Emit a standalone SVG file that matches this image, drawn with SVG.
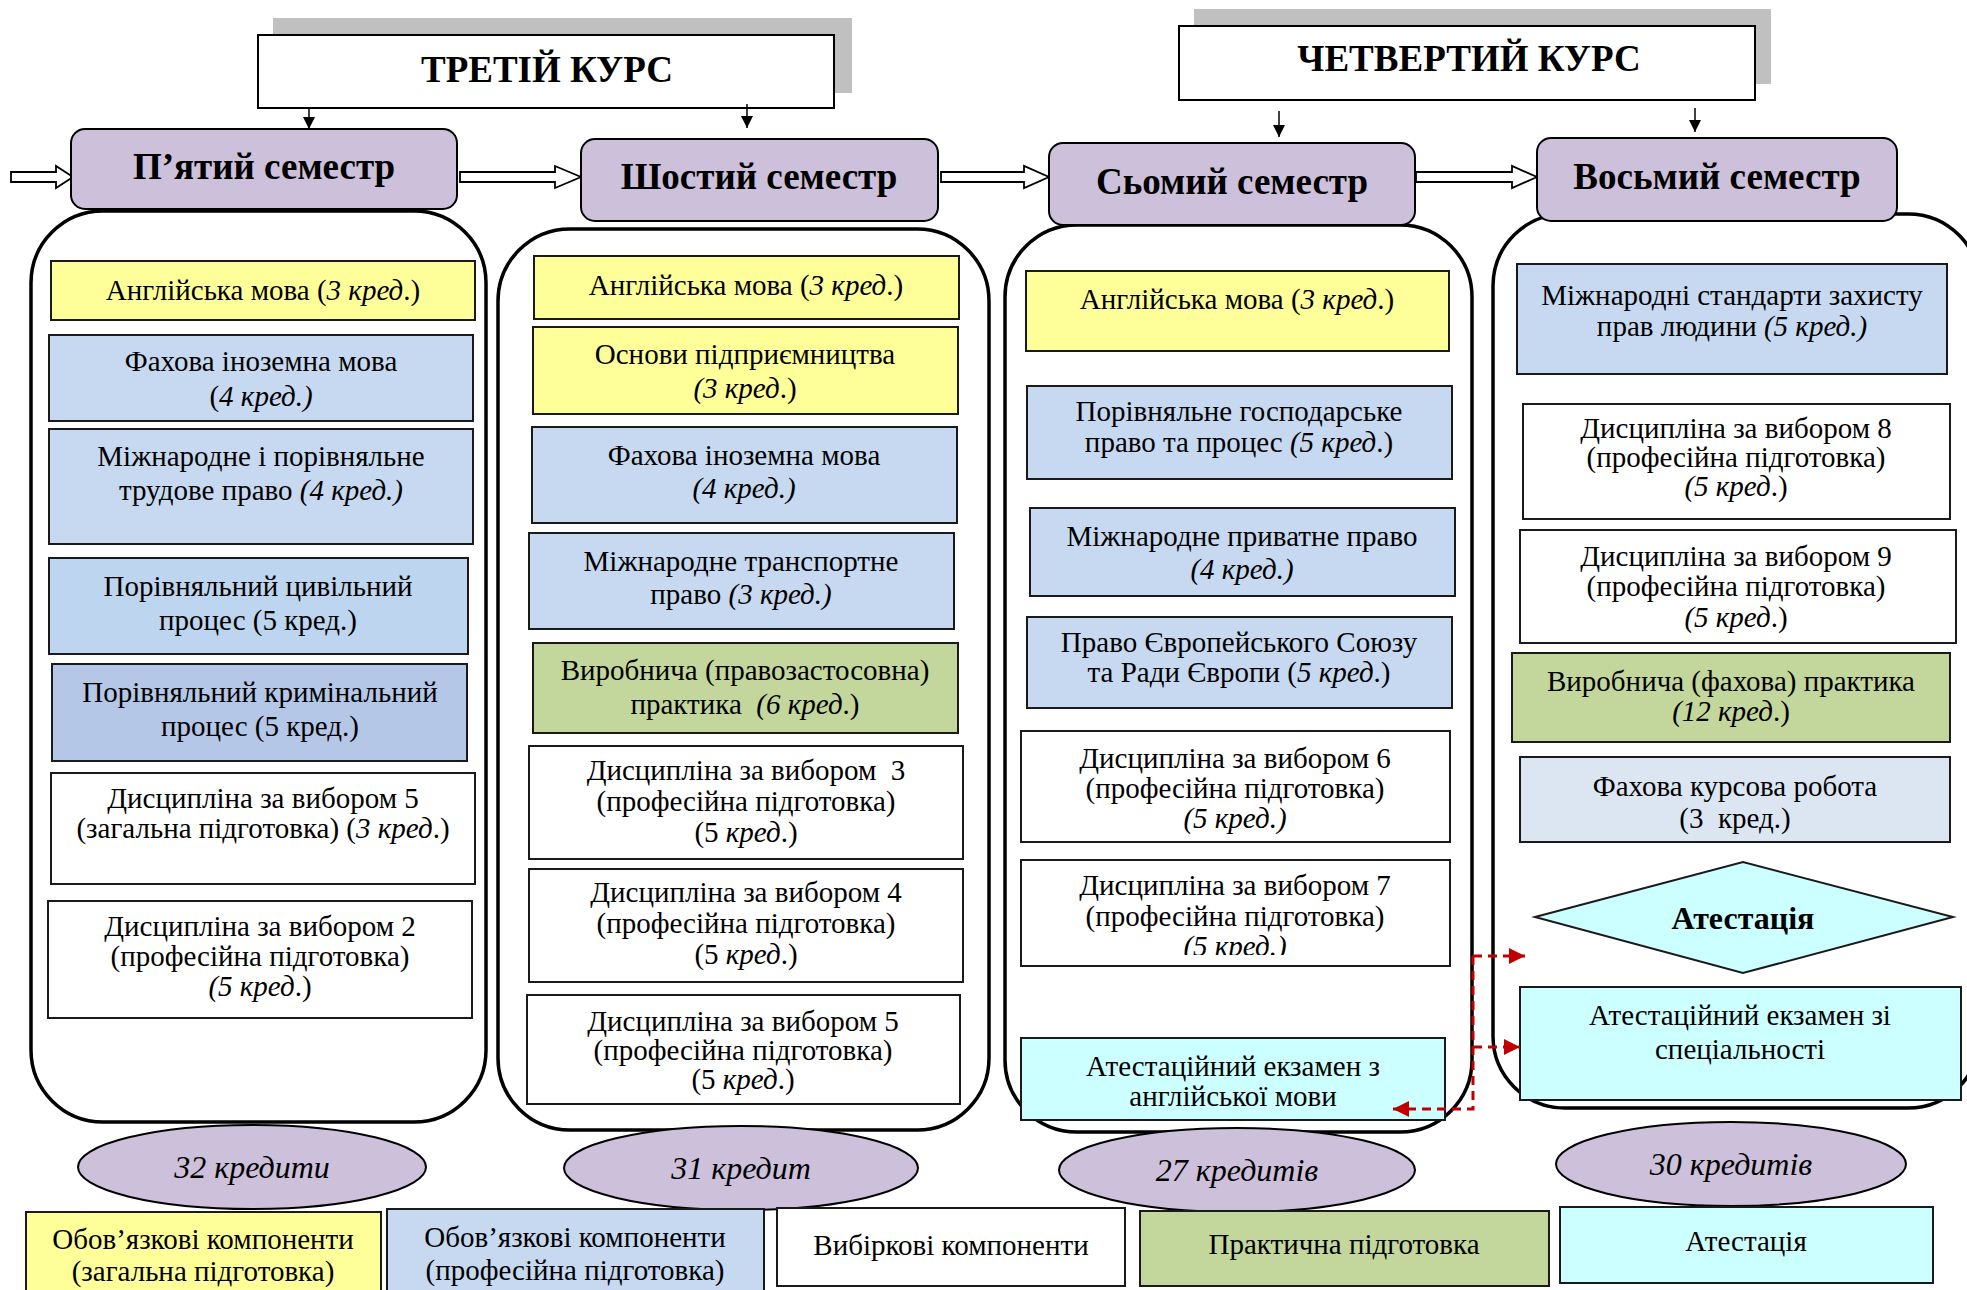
<svg xmlns="http://www.w3.org/2000/svg" width="1967" height="1290" viewBox="0 0 1967 1290">
<style>
text{font-family:"Liberation Serif","Times New Roman",serif;fill:#000;text-anchor:middle}
.t{font-size:29px}
.h{font-size:37px;font-weight:bold}
.s{font-size:37px;font-weight:bold}
.c{font-size:32px;font-style:italic}
.i{font-style:italic}
.box{stroke:#1a1a1a;stroke-width:2}
.cont{fill:#fff;stroke:#000;stroke-width:3.5}
.sem{fill:#ccc0da;stroke:#000;stroke-width:2}
.y{fill:#ffff99}.b{fill:#c6d9f1}.b2{fill:#bdd5ee}.b3{fill:#b4c7e7}.g{fill:#c3d69b}.w{fill:#fff}.cy{fill:#ccffff}.lb{fill:#dce6f2}
.ell{fill:#ccc0da;stroke:#000;stroke-width:2}
.blk{fill:#fff;stroke:#000;stroke-width:1.8}
.dn{stroke:#000;stroke-width:1.5;fill:none}
.red{stroke:#c00000;stroke-width:3;stroke-dasharray:9 6;fill:none}
</style>
<defs>
<marker id="ah" markerUnits="userSpaceOnUse" markerWidth="12" markerHeight="14" refX="12" refY="7" orient="auto"><path d="M0,1 L12,7 L0,13 Z" fill="#000"/></marker>
<marker id="rh" markerUnits="userSpaceOnUse" markerWidth="16" markerHeight="18" refX="16" refY="9" orient="auto"><path d="M0,1 L16,9 L0,17 Z" fill="#c00000"/></marker>
<clipPath id="clip7"><rect x="1021" y="860" width="429" height="95"/></clipPath>
</defs>

<!-- course headers -->
<g id="course3">
<rect x="273" y="18" width="579" height="75" fill="#c0c0c0"/>
<rect x="258" y="35" width="576" height="73" fill="#fff" stroke="#000" stroke-width="2"/>
<text class="h" x="547" y="82">ТРЕТІЙ КУРС</text>
</g>
<g id="course4">
<rect x="1194" y="9" width="577" height="75" fill="#c0c0c0"/>
<rect x="1179" y="26" width="576" height="74" fill="#fff" stroke="#000" stroke-width="2"/>
<text class="h" x="1469" y="71">ЧЕТВЕРТИЙ КУРС</text>
</g>

<!-- containers -->
<g id="containers">
<rect id="cont5" class="cont" x="31" y="211" width="455" height="911" rx="72"/>
<rect id="cont6" class="cont" x="498" y="229" width="491" height="901" rx="72"/>
<rect id="cont7" class="cont" x="1005" y="225" width="467" height="907" rx="72"/>
<rect id="cont8" class="cont" x="1493" y="214" width="487" height="894" rx="72"/>
</g>

<!-- connectors -->
<g id="connectors">
<polygon class="blk" points="11,172 56,172 56,166 73,177 56,188 56,182 11,182"/>
<polygon class="blk" points="460,172 555,172 555,166 581,177 555,188 555,182 460,182"/>
<polygon class="blk" points="941,172 1024,172 1024,166 1049,177 1024,188 1024,182 941,182"/>
<polygon class="blk" points="1416,172 1512,172 1512,166 1537,177 1512,188 1512,182 1416,182"/>
<line class="dn" x1="309" y1="108" x2="309" y2="129" marker-end="url(#ah)"/>
<line class="dn" x1="747" y1="104" x2="747" y2="128" marker-end="url(#ah)"/>
<line class="dn" x1="1279" y1="111" x2="1279" y2="137" marker-end="url(#ah)"/>
<line class="dn" x1="1695" y1="108" x2="1695" y2="132" marker-end="url(#ah)"/>
</g>

<!-- semesters -->
<g id="sem5"><rect class="sem" x="71" y="129" width="386" height="80" rx="14"/><text class="s" x="264" y="179">П’ятий семестр</text></g>
<g id="sem6"><rect class="sem" x="581" y="139" width="357" height="82" rx="14"/><text class="s" x="759" y="189">Шостий семестр</text></g>
<g id="sem7"><rect class="sem" x="1049" y="143" width="366" height="82" rx="14"/><text class="s" x="1232" y="194">Сьомий семестр</text></g>
<g id="sem8"><rect class="sem" x="1537" y="138" width="360" height="83" rx="14"/><text class="s" x="1717" y="189">Восьмий семестр</text></g>

<!-- column 5 -->
<g id="c5a"><rect class="box y" x="51" y="261" width="424" height="59"/><text class="t" x="263" y="300">Англійська мова (<tspan class="i">3 кред</tspan>.)</text></g>
<g id="c5b"><rect class="box b" x="49" y="335" width="424" height="86"/><text class="t" x="261" y="371">Фахова іноземна мова</text><text class="t" x="261" y="406">(<tspan class="i">4 кред.)</tspan></text></g>
<g id="c5c"><rect class="box b" x="49" y="429" width="424" height="115"/><text class="t" x="261" y="466">Міжнародне і порівняльне</text><text class="t" x="261" y="500">трудове право <tspan class="i">(4 кред.)</tspan></text></g>
<g id="c5d"><rect class="box b2" x="49" y="558" width="419" height="96"/><text class="t" x="258" y="596">Порівняльний цивільний</text><text class="t" x="258" y="630">процес (5 кред.)</text></g>
<g id="c5e"><rect class="box b3" x="52" y="664" width="415" height="97"/><text class="t" x="260" y="702">Порівняльний кримінальний</text><text class="t" x="260" y="736">процес (5 кред.)</text></g>
<g id="c5f"><rect class="box w" x="51" y="773" width="424" height="111"/><text class="t" x="263" y="808">Дисципліна за вибором 5</text><text class="t" x="263" y="838">(загальна підготовка) (<tspan class="i">3 кред</tspan>.)</text></g>
<g id="c5g"><rect class="box w" x="48" y="901" width="424" height="117"/><text class="t" x="260" y="936">Дисципліна за вибором 2</text><text class="t" x="260" y="966">(професійна підготовка)</text><text class="t" x="260" y="996"><tspan class="i">(5 кред</tspan>.)</text></g>

<!-- column 6 -->
<g id="c6a"><rect class="box y" x="534" y="256" width="425" height="63"/><text class="t" x="746" y="295">Англійська мова (<tspan class="i">3 кред</tspan>.)</text></g>
<g id="c6b"><rect class="box y" x="533" y="327" width="425" height="87"/><text class="t" x="745" y="364">Основи підприємництва</text><text class="t" x="745" y="398"><tspan class="i">(3 кред</tspan>.)</text></g>
<g id="c6c"><rect class="box b" x="532" y="427" width="425" height="96"/><text class="t" x="744" y="465">Фахова іноземна мова</text><text class="t" x="744" y="498" font-style="italic">(4 кред.)</text></g>
<g id="c6d"><rect class="box b" x="529" y="533" width="425" height="96"/><text class="t" x="741" y="571">Міжнародне транспортне</text><text class="t" x="741" y="604">право <tspan class="i">(3 кред.)</tspan></text></g>
<g id="c6e"><rect class="box g" x="533" y="643" width="425" height="90"/><text class="t" x="745" y="680">Виробнича (правозастосовна)</text><text class="t" x="745" y="714">практика&#160; <tspan class="i">(6 кред</tspan>.)</text></g>
<g id="c6f"><rect class="box w" x="529" y="746" width="434" height="113"/><text class="t" x="746" y="780">Дисципліна за вибором&#160; 3</text><text class="t" x="746" y="811">(професійна підготовка)</text><text class="t" x="746" y="842">(5 <tspan class="i">кред</tspan>.)</text></g>
<g id="c6g"><rect class="box w" x="529" y="869" width="434" height="113"/><text class="t" x="746" y="902">Дисципліна за вибором 4</text><text class="t" x="746" y="933">(професійна підготовка)</text><text class="t" x="746" y="964">(5 <tspan class="i">кред</tspan>.)</text></g>
<g id="c6h"><rect class="box w" x="527" y="995" width="433" height="109"/><text class="t" x="743" y="1031">Дисципліна за вибором 5</text><text class="t" x="743" y="1060">(професійна підготовка)</text><text class="t" x="743" y="1089">(5 <tspan class="i">кред</tspan>.)</text></g>

<!-- column 7 -->
<g id="c7a"><rect class="box y" x="1026" y="271" width="423" height="80"/><text class="t" x="1237" y="309">Англійська мова (<tspan class="i">3 кред</tspan>.)</text></g>
<g id="c7b"><rect class="box b" x="1027" y="386" width="425" height="93"/><text class="t" x="1239" y="421">Порівняльне господарське</text><text class="t" x="1239" y="452">право та процес <tspan class="i">(5 кред</tspan>.)</text></g>
<g id="c7c"><rect class="box b" x="1030" y="508" width="425" height="88"/><text class="t" x="1242" y="546">Міжнародне приватне право</text><text class="t" x="1242" y="579" font-style="italic">(4 кред.)</text></g>
<g id="c7d"><rect class="box b" x="1027" y="617" width="425" height="91"/><text class="t" x="1239" y="652">Право Європейського Союзу</text><text class="t" x="1239" y="682">та Ради Європи (<tspan class="i">5 кред</tspan>.)</text></g>
<g id="c7e"><rect class="box w" x="1021" y="731" width="429" height="111"/><text class="t" x="1235" y="768">Дисципліна за вибором 6</text><text class="t" x="1235" y="798">(професійна підготовка)</text><text class="t" x="1235" y="828" font-style="italic">(5 кред.)</text></g>
<g id="c7f"><rect class="box w" x="1021" y="860" width="429" height="106"/><g clip-path="url(#clip7)"><text class="t" x="1235" y="895">Дисципліна за вибором 7</text><text class="t" x="1235" y="926">(професійна підготовка)</text><text class="t" x="1235" y="956" font-style="italic">(5 кред.)</text></g></g>
<g id="c7g"><rect class="box cy" x="1021" y="1038" width="424" height="82"/><text class="t" x="1233" y="1076">Атестаційний екзамен з</text><text class="t" x="1233" y="1106">англійської мови</text></g>

<!-- column 8 -->
<g id="c8a"><rect class="box b" x="1517" y="264" width="430" height="110"/><text class="t" x="1732" y="305">Міжнародні стандарти захисту</text><text class="t" x="1732" y="336">прав людини <tspan class="i">(5 кред.)</tspan></text></g>
<g id="c8b"><rect class="box w" x="1523" y="404" width="427" height="115"/><text class="t" x="1736" y="438">Дисципліна за вибором 8</text><text class="t" x="1736" y="467">(професійна підготовка)</text><text class="t" x="1736" y="496"><tspan class="i">(5 кред</tspan>.)</text></g>
<g id="c8c"><rect class="box w" x="1520" y="530" width="436" height="113"/><text class="t" x="1736" y="566">Дисципліна за вибором 9</text><text class="t" x="1736" y="596">(професійна підготовка)</text><text class="t" x="1736" y="627"><tspan class="i">(5 кред</tspan>.)</text></g>
<g id="c8d"><rect class="box g" x="1512" y="653" width="438" height="89"/><text class="t" x="1731" y="691">Виробнича (фахова) практика</text><text class="t" x="1731" y="721"><tspan class="i">(12 кред</tspan>.)</text></g>
<g id="c8e"><rect class="box lb" x="1520" y="757" width="430" height="85"/><text class="t" x="1735" y="796">Фахова курсова робота</text><text class="t" x="1735" y="828">(3&#160; кред.)</text></g>
<g id="c8f"><polygon class="box cy" points="1535,917 1743,862 1953,917 1743,973"/><text x="1743" y="929" font-size="32" font-weight="bold">Атестація</text></g>
<g id="c8g"><rect class="box cy" x="1520" y="987" width="441" height="113"/><text class="t" x="1740" y="1025">Атестаційний екзамен зі</text><text class="t" x="1740" y="1059">спеціальності</text></g>

<!-- red dashed connectors -->
<g id="attest-connectors">
<path class="red" d="M1473,956 H1525" marker-end="url(#rh)"/>
<path class="red" d="M1473,1047 H1520" marker-end="url(#rh)"/>
<path class="red" d="M1473,956 V1109 H1393" marker-end="url(#rh)"/>
</g>

<!-- credits -->
<g id="cr5"><ellipse class="ell" cx="252" cy="1167" rx="174" ry="42"/><text class="c" x="252" y="1178">32 кредити</text></g>
<g id="cr6"><ellipse class="ell" cx="741" cy="1168" rx="177" ry="42"/><text class="c" x="741" y="1179">31 кредит</text></g>
<g id="cr7"><ellipse class="ell" cx="1237" cy="1170" rx="178" ry="42"/><text class="c" x="1237" y="1181">27 кредитів</text></g>
<g id="cr8"><ellipse class="ell" cx="1731" cy="1164" rx="175" ry="42"/><text class="c" x="1731" y="1175">30 кредитів</text></g>

<!-- legend -->
<g id="leg1"><rect class="box y" x="26" y="1212" width="355" height="90"/><text class="t" x="203" y="1249">Обов’язкові компоненти</text><text class="t" x="203" y="1281">(загальна підготовка)</text></g>
<g id="leg2"><rect class="box b" x="387" y="1209" width="377" height="90"/><text class="t" x="575" y="1247">Обов’язкові компоненти</text><text class="t" x="575" y="1280">(професійна підготовка)</text></g>
<g id="leg3"><rect class="box w" x="777" y="1208" width="348" height="78"/><text class="t" x="951" y="1255">Вибіркові компоненти</text></g>
<g id="leg4"><rect class="box g" x="1140" y="1211" width="409" height="75"/><text class="t" x="1344" y="1254">Практична підготовка</text></g>
<g id="leg5"><rect class="box cy" x="1560" y="1207" width="373" height="76"/><text class="t" x="1746" y="1251">Атестація</text></g>
</svg>
